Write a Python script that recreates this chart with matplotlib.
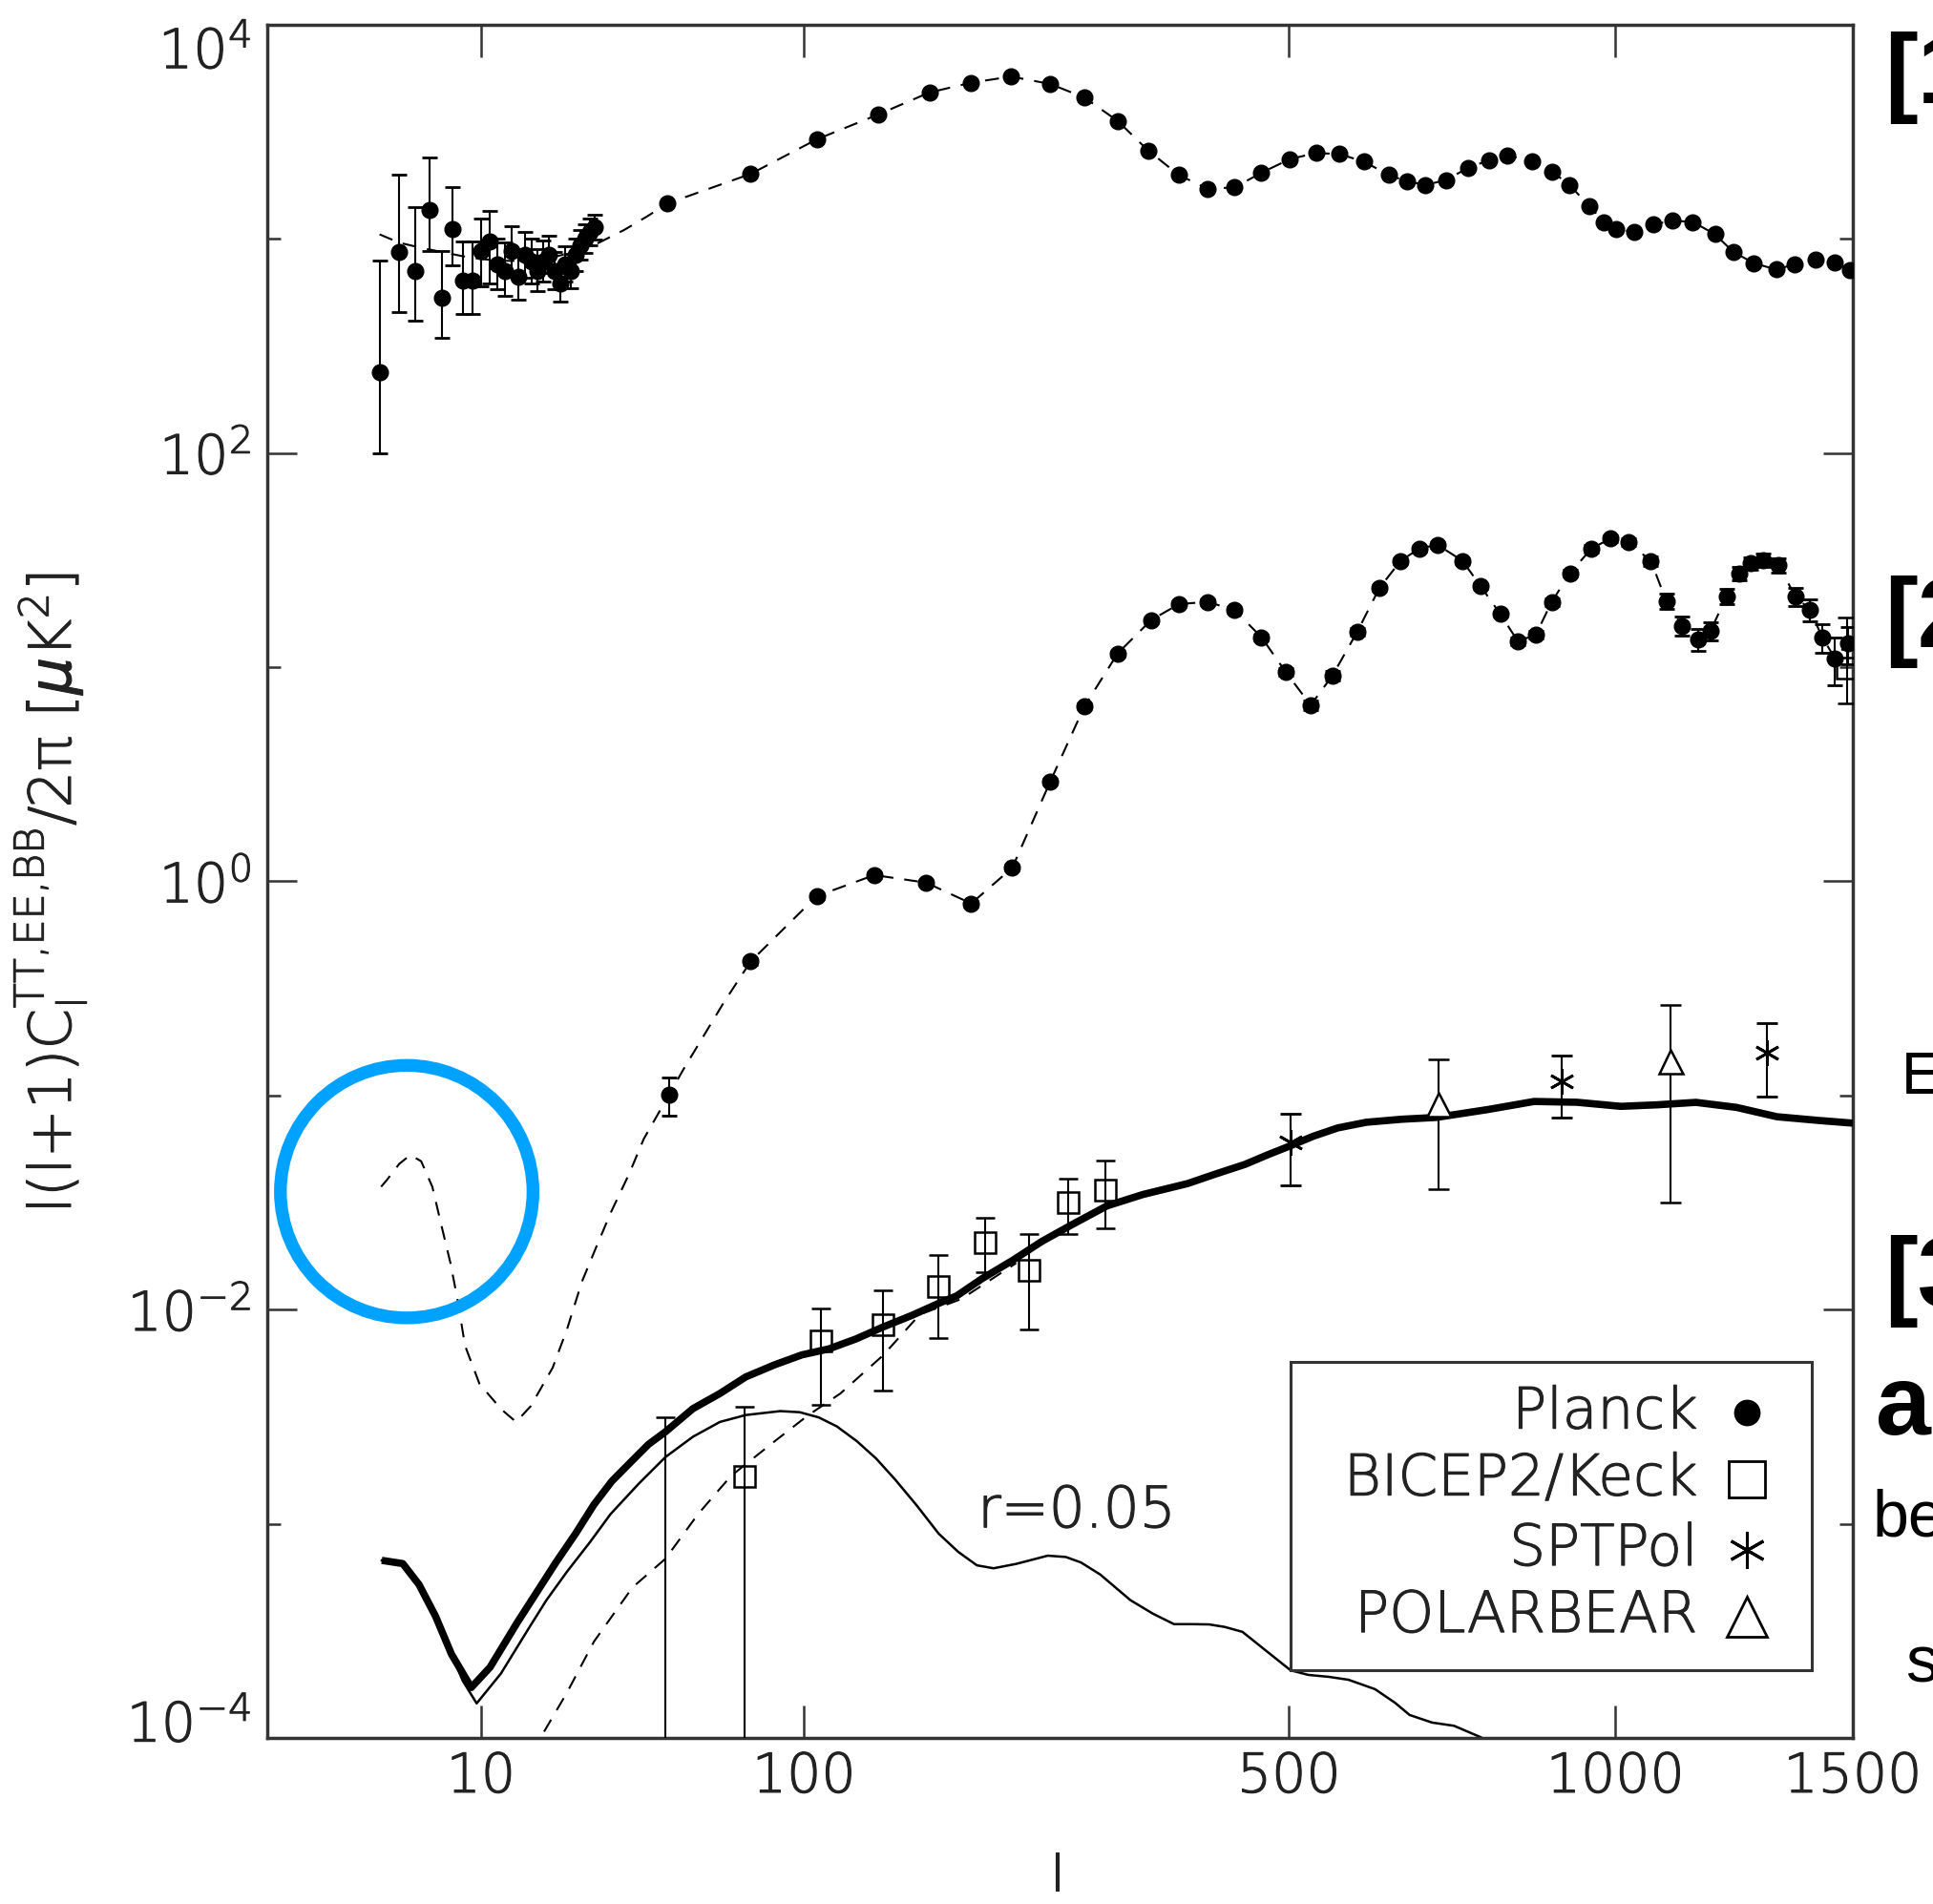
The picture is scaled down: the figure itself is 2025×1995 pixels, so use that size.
import numpy as np
import matplotlib.pyplot as plt
import matplotlib.patheffects as pe
import matplotlib.transforms as mtrans
from matplotlib.patches import Ellipse, Rectangle
from matplotlib.ticker import NullFormatter, NullLocator

plt.rcParams['font.family'] = ['DejaVu Sans']
plt.rcParams['font.weight'] = 'light'
plt.rcParams['mathtext.default'] = 'regular'

# ---------------- data ----------------
# TT, Planck low-l (binned per multipole, with asymmetric errors)
tt_low_l = [2, 3, 4, 5, 6, 7, 8, 9, 10, 11, 12, 13, 14, 15, 16, 17, 18, 19, 20,
            21, 22, 23, 24, 25, 26, 27, 28, 29]
tt_low_v = [238, 868, 711, 1372, 532, 1111, 642, 642, 874, 968, 762, 711, 874, 665,
            845, 788, 711, 788, 845, 711, 621, 762, 711, 845, 936, 1002, 1073, 1130]
tt_low_hi = [794, 1986, 1409, 2400, 874, 1744, 968, 968, 1242, 1352, 1000, 960, 1150,
             900, 1080, 1000, 900, 980, 1040, 870, 760, 920, 850, 1000, 1100, 1170,
             1240, 1300]
tt_low_lo = [100, 453, 416, 874, 345, 749, 445, 445, 600, 621, 580, 540, 680, 520,
             660, 620, 570, 630, 690, 580, 510, 630, 590, 710, 800, 860, 930, 990]

# TT, Planck high-l
tt_l = [48, 77, 106, 138, 169, 197, 226, 257, 286, 316, 345, 376, 406, 436, 467, 501,
        534, 564, 597, 631, 657, 684, 715, 749, 782, 812, 853, 886, 917, 952, 979,
        1001, 1036, 1072, 1110, 1150, 1195, 1233, 1277, 1325, 1366, 1413, 1458, 1494]
tt_v = [1464, 2012, 2915, 3802, 4826, 5364, 5728, 5292, 4571, 3556, 2588, 1986, 1716,
        1738, 2037, 2358, 2520, 2488, 2296, 1987, 1859, 1786, 1884, 2150, 2329, 2455,
        2296, 2065, 1786, 1426, 1200, 1108, 1079, 1169, 1217, 1200, 1051, 870, 770,
        720, 760, 800, 780, 716]

# TT model (dashed): low-l part, then through the band powers
tt_th_low_l = [2, 3, 4.5, 6, 8, 10, 13, 16, 20, 25, 30, 36, 42]
tt_th_low_v = [1050, 960, 905, 870, 830, 805, 790, 790, 815, 870, 960, 1100, 1270]

# EE, Planck
ee_l = [48.5, 77, 106, 136, 167, 197, 227, 257, 286, 316, 348, 376, 406, 436, 467,
        496, 527, 555, 588, 618, 648, 675, 702, 740, 768, 800, 829, 859, 886, 918,
        956, 990, 1024, 1067, 1097, 1128, 1160, 1186, 1219, 1245, 1270, 1297, 1330,
        1368, 1400, 1429, 1458, 1488]
ee_v = [0.101, 0.423, 0.853, 1.07, 0.986, 0.788, 1.157, 2.92, 6.56, 11.6, 16.6, 19.7,
        20.2, 18.5, 13.8, 9.5, 6.65, 9.15, 14.7, 23.4, 31.4, 35.8, 37.3, 31.4, 24.0,
        17.7, 13.2, 14.2, 20.2, 27.5, 35.8, 39.8, 38.3, 31.4, 20.4, 15.6, 13.5, 14.8,
        21.4, 27.5, 30.5, 31.6, 30.0, 21.4, 18.6, 13.8, 11.0, 12.9]
ee_err = [0.2, 0.04, 0.03, 0.03, 0.03, 0.03, 0.03, 0.03, 0.03, 0.03, 0.03, 0.03, 0.03,
          0.03, 0.03, 0.04, 0.05, 0.05, 0.04, 0.03, 0.03, 0.03, 0.03, 0.03, 0.03, 0.03,
          0.04, 0.04, 0.04, 0.04, 0.04, 0.04, 0.04, 0.05, 0.08, 0.1, 0.12, 0.1, 0.08,
          0.07, 0.07, 0.07, 0.08, 0.1, 0.12, 0.15, 0.25, 0.2]

# EE model (dashed) low-l reionisation bump and rise
ee_th_low_l = [2.07, 2.33, 3.0, 3.67, 4.4, 5.24, 5.98, 6.8, 7.5, 8.23, 9.83, 12.57,
               14.63, 16.86, 20.6, 23.3, 26.3, 29.4, 32.8, 37.3, 41.2, 48.5, 53, 66.8]
ee_th_low_v = [0.0375, 0.0402, 0.048, 0.0528, 0.0493, 0.0375, 0.0249, 0.0165, 0.011,
               0.0068, 0.0045, 0.00342, 0.00299, 0.00354, 0.00535, 0.0081, 0.0135,
               0.0196, 0.0285, 0.043, 0.0627, 0.101, 0.133, 0.273]

# BB: lensing + r=0.05 (thick)
bb_tot_l = [2.1, 3.2, 4.25, 5.5, 6.9, 8.9, 11.1, 14.8, 21.2, 25, 28.9, 33, 38.2, 42.5,
            47.4, 56, 65.3, 75, 86.9, 99, 112, 126, 141, 158, 175, 187, 205, 228, 250,
            275, 306, 340, 385, 415, 448, 475, 503, 530, 562, 600, 650, 700, 780, 856,
            930, 1010, 1080, 1156, 1240, 1327, 1420, 1500]
bb_tot_v = [6.75e-4, 6.52e-4, 5.2e-4, 3.7e-4, 2.46e-4, 1.72e-4, 2.14e-4, 3.46e-4,
            6.6e-4, 9.0e-4, 1.23e-3, 1.58e-3, 1.98e-3, 2.35e-3, 2.69e-3, 3.45e-3,
            4.06e-3, 4.85e-3, 5.53e-3, 6.15e-3, 6.56e-3, 7.3e-3, 8.3e-3, 9.4e-3,
            0.0107, 0.0116, 0.0140, 0.0171, 0.0208, 0.0249, 0.0305, 0.0345, 0.0388,
            0.0430, 0.0477, 0.0530, 0.0585, 0.0645, 0.0706, 0.0750, 0.0775, 0.079,
            0.086, 0.0938, 0.093, 0.089, 0.0905, 0.0929, 0.088, 0.0796, 0.0765, 0.0743]

# BB: tensor only, r=0.05 (thin)
bb_r_l = [2.1, 3.2, 4.25, 5.5, 6.9, 8.0, 9.5, 12.5, 16.5, 19.5, 23.3, 28, 32.7, 40,
          47.4, 56, 65.3, 75, 89.3, 98, 107, 116, 126.5, 137, 148, 161, 175, 188, 201,
          213, 230, 255, 270, 283, 300, 328, 350, 371, 390, 408, 425, 445, 470, 502,
          524, 550, 576, 612, 640, 661, 694, 727, 768, 800]
bb_r_v = [6.75e-4, 6.52e-4, 5.2e-4, 3.7e-4, 2.46e-4, 1.85e-4, 1.45e-4, 2.0e-4, 3.23e-4,
          4.4e-4, 5.98e-4, 8.2e-4, 1.11e-3, 1.55e-3, 2.05e-3, 2.55e-3, 2.99e-3, 3.22e-3,
          3.36e-3, 3.32e-3, 3.14e-3, 2.85e-3, 2.43e-3, 2.02e-3, 1.61e-3, 1.22e-3,
          9.0e-4, 7.4e-4, 6.4e-4, 6.2e-4, 6.5e-4, 7.1e-4, 7.0e-4, 6.6e-4, 5.8e-4,
          4.4e-4, 3.8e-4, 3.4e-4, 3.4e-4, 3.39e-4, 3.3e-4, 3.13e-4, 2.6e-4, 2.07e-4,
          1.97e-4, 1.93e-4, 1.87e-4, 1.69e-4, 1.46e-4, 1.28e-4, 1.18e-4, 1.14e-4,
          1.01e-4, 9e-5]

# BB: lensing only (dashed)
bb_lens_l = [17, 23.3, 28.9, 38.2, 47.4, 57.7, 69.3, 86.9, 101.7, 117.8, 141, 163,
             190, 230]
bb_lens_v = [8.5e-5, 1.63e-4, 2.82e-4, 5.05e-4, 6.87e-4, 1.11e-3, 1.67e-3, 2.43e-3,
             3.2e-3, 4.06e-3, 6.12e-3, 9.5e-3, 0.0112, 0.0165]

# BICEP2/Keck band powers (first bin has its centre below the plot)
bk_l = [47.4, 74.6, 108, 141, 175, 207, 240, 272, 305, 1487]
bk_v = [5e-5, 1.67e-3, 7.13e-3, 8.48e-3, 0.0128, 0.0206, 0.0152, 0.0316, 0.0363, 9.9]
bk_hi = [3.14e-3, 3.52e-3, 0.0101, 0.0123, 0.018, 0.0268, 0.0226, 0.0411, 0.0497, 17.1]
bk_lo = [1e-6, 1e-6, 3.58e-3, 4.2e-3, 7.4e-3, 0.015, 8.05e-3, 0.0225, 0.0239, 6.8]

# SPTPol
spt_l = [502, 904, 1306]
spt_v = [0.0605, 0.1167, 0.158]
spt_hi = [0.0824, 0.1535, 0.218]
spt_lo = [0.038, 0.0791, 0.0984]

# POLARBEAR
pb_l = [704, 1106]
pb_v = [0.0912, 0.1449]
pb_hi = [0.148, 0.265]
pb_lo = [0.0366, 0.0318]

x_ticks = [10, 100, 500, 1000, 1500]
x_labels = ['10', '100', '500', '1000', '1500']
y_major = [1e-4, 1e-2, 1e0, 1e2, 1e4]
y_labels = ['10$^{-4}$', '10$^{-2}$', '10$^{0}$', '10$^{2}$', '10$^{4}$']
y_minor = [1e-3, 1e-1, 1e1, 1e3]

legend_labels = ['Planck', 'BICEP2/Keck', 'SPTPol', 'POLARBEAR']


def fwd(x):
    x = np.asarray(x, dtype=float)
    return np.sign(x) * np.abs(x) ** 0.4


def inv(x):
    x = np.asarray(x, dtype=float)
    return np.sign(x) * np.abs(x) ** 2.5


def asym(v, lo, hi):
    v = np.asarray(v, float)
    return [v - np.asarray(lo, float), np.asarray(hi, float) - v]


thicken = [pe.withStroke(linewidth=0.8, foreground='#222222')]

fig = plt.figure(figsize=(20.25, 19.95), dpi=100)
ax = fig.add_axes([0.1383, 0.0872, 0.8202, 0.8998])
ax.set_xscale('function', functions=(fwd, inv))
ax.set_yscale('log')
ax.set_xlim(0, 1500)
ax.set_ylim(1e-4, 1e4)

dash = (0, (7, 5.5))
K = 'black'

# model curves
ax.plot(tt_th_low_l + tt_l, tt_th_low_v + tt_v, ls=dash, lw=1.5, color=K, zorder=2)
ax.plot(ee_th_low_l + ee_l[1:], ee_th_low_v + ee_v[1:], ls=dash, lw=1.5, color=K, zorder=2)
ax.plot(bb_lens_l, bb_lens_v, ls=dash, lw=1.5, color=K, zorder=2)
ax.plot(bb_r_l, bb_r_v, ls='-', lw=1.8, color=K, zorder=2)
ax.plot(bb_tot_l, bb_tot_v, ls='-', lw=5.5, color=K, zorder=3, solid_capstyle='butt')

# data
eb = dict(ecolor=K, elinewidth=1.5, capthick=2.0, zorder=4, linestyle='none')
ax.errorbar(tt_low_l, tt_low_v, yerr=asym(tt_low_v, tt_low_lo, tt_low_hi), fmt='o',
            ms=12, mfc=K, mec=K, capsize=6, **eb)
ax.plot(tt_l, tt_v, 'o', ms=12, color=K, zorder=4)
ee_e = np.array(ee_v) * np.array(ee_err)
ax.errorbar(ee_l, ee_v, yerr=[ee_e, ee_e], fmt='o', ms=12, mfc=K, mec=K, capsize=6, **eb)
ax.errorbar(bk_l, bk_v, yerr=asym(bk_v, bk_lo, bk_hi), fmt='s', ms=16, mfc='none',
            mec=K, mew=1.8, capsize=7, **eb)
ax.errorbar(spt_l, spt_v, yerr=asym(spt_v, spt_lo, spt_hi), fmt='none', capsize=8, **eb)
ax.plot(spt_l, spt_v, ls='none', marker=(6, 2, 0), ms=19, mec=K, mew=2.0, zorder=5)
ax.errorbar(pb_l, pb_v, yerr=asym(pb_v, pb_lo, pb_hi), fmt='^', ms=18, mfc='white',
            mec=K, mew=1.8, capsize=8, **eb)

ax.text(0.448, 0.123, 'r=0.05', transform=ax.transAxes, fontsize=43, color='#222',
        va='baseline', ha='left', path_effects=thicken)

# axes styling
for s in ax.spines.values():
    s.set_linewidth(2.5)
    s.set_color('#333333')
ax.set_xticks(x_ticks, x_labels)
ax.xaxis.set_minor_locator(NullLocator())
ax.set_yticks(y_major, y_labels)
ax.set_yticks(y_minor, minor=True)
ax.yaxis.set_minor_formatter(NullFormatter())
ax.tick_params(axis='x', which='major', direction='in', length=24.5, width=1.8,
               top=True, bottom=True, labelsize=41, pad=10, color='#333333',
               labelcolor='#222222')
ax.tick_params(axis='y', which='major', direction='in', length=22, width=1.8,
               left=True, right=True, labelsize=41, pad=12, color='#333333',
               labelcolor='#222222')
ax.tick_params(axis='y', which='minor', direction='in', length=10, width=1.8,
               left=True, right=True, color='#333333')
for lab in ax.get_xticklabels() + ax.get_yticklabels():
    lab.set_path_effects(thicken)

# the outermost y labels sit a little inside the frame in the reference
yt = ax.yaxis.get_major_ticks()
yt[-1].label1.set_transform(yt[-1].label1.get_transform()
                            + mtrans.ScaledTranslation(0, -17 / 72, fig.dpi_scale_trans))
yt[0].label1.set_transform(yt[0].label1.get_transform()
                           + mtrans.ScaledTranslation(0, 13 / 72, fig.dpi_scale_trans))

fig.text(0.026, 0.531, r'l(l+1)C$_{l}^{TT{,}EE{,}BB}$/2$\pi$ [$\mathit{\mu}$K$^{2}$]',
         rotation=90, ha='center', va='center', fontsize=44, color='#222',
         path_effects=thicken)
fig.text(0.547, 0.002, 'l', ha='center', va='bottom', fontsize=37, color='#222',
         path_effects=thicken)

# legend, drawn by hand
lx0, ly0, lx1, ly1 = 0.6454, 0.0395, 0.9741, 0.2194
ax.add_patch(Rectangle((lx0, ly0), lx1 - lx0, ly1 - ly0, transform=ax.transAxes,
                       fc='white', ec='#333333', lw=2.2, zorder=6))
rows = [0.1899, 0.1509, 0.110, 0.071]
mk = [dict(marker='o', ms=19, mfc=K, mec=K),
      dict(marker='s', ms=28, mfc='none', mec=K, mew=2.0),
      dict(marker=(6, 2, 0), ms=28, mec=K, mew=2.2),
      dict(marker='^', ms=30, mfc='none', mec=K, mew=2.0)]
for lab, yy, m in zip(legend_labels, rows, mk):
    ax.text(0.9023, yy, lab, transform=ax.transAxes, fontsize=43, color='#222',
            ha='right', va='center', zorder=7, path_effects=thicken)
    ax.plot([0.9329], [yy], transform=ax.transAxes, ls='none', zorder=7,
            clip_on=False, **m)

# highlighted region
ax.add_patch(Ellipse((0.0879, 0.3189), 0.1593, 0.1474, transform=ax.transAxes,
                     fill=False, ec='#00A2FF', lw=9.6, clip_on=False, zorder=8))

# neighbouring slide text cut by the crop
side = [('[1', 0.9748, 0.9459, 75, 'bold'), ('[2', 0.9748, 0.6602, 75, 'bold'),
        ('E', 0.9837, 0.4256, 45, 'normal'), ('[3', 0.9748, 0.3138, 75, 'bold'),
        ('a', 0.9704, 0.2466, 75, 'bold'), ('be', 0.9689, 0.1930, 49, 'normal'),
        ('s', 0.9857, 0.1163, 50, 'normal')]
for s, x, y, fs, w in side:
    fig.text(x, y, s, fontsize=fs, fontweight=w, family=['Liberation Sans', 'DejaVu Sans'],
             color='black', va='baseline', ha='left')

fig.savefig('out.png', dpi=100)
